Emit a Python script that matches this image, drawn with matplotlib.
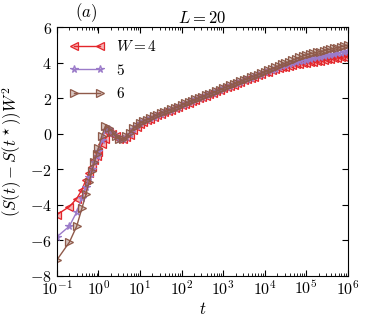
import math
import matplotlib
matplotlib.use("Agg")
import matplotlib.pyplot as plt
from matplotlib.ticker import FuncFormatter, LogLocator, FixedLocator

plt.rcParams['mathtext.fontset'] = 'cm'
plt.rcParams['font.family'] = 'serif'

# time points: linear start, then 12 points per decade
t_early = [0.1, 0.2, 0.3, 0.4, 0.5, 0.6, 0.7, 0.8, 0.9]
t_mant = [1.0, 1.21, 1.47, 1.78, 2.15, 2.61, 3.16, 3.83, 4.64, 5.62, 6.81, 8.25]
t = t_early + [m * 10 ** d for d in range(6) for m in t_mant] + [1e6]

# W = 4
y_w4 = [-4.55, -4.1, -3.65, -3.15, -2.6, -2.2, -1.85, -1.5, -1.25,
        -1.0, -0.6, -0.3, 0.05, 0.0, -0.15, -0.28, -0.3, -0.2, -0.05, 0.2, 0.4,
        0.55, 0.68, 0.76, 0.86, 0.95, 1.04, 1.12, 1.2, 1.27, 1.35, 1.43, 1.51,
        1.6, 1.68, 1.75, 1.83, 1.92, 1.99, 2.06, 2.15, 2.22, 2.3, 2.38, 2.46,
        2.55, 2.62, 2.7, 2.77, 2.85, 2.92, 3.0, 3.07, 3.15, 3.22, 3.3, 3.38,
        3.45, 3.5, 3.57, 3.62, 3.7, 3.74, 3.78, 3.83, 3.87, 3.9, 3.93, 3.96,
        3.98, 4.02, 4.05, 4.08, 4.11, 4.15, 4.18, 4.2, 4.24, 4.27, 4.3, 4.33,
        4.35]
# W = 5
y_w5 = [-5.8, -5.2, -4.4, -3.6, -3.0, -2.45, -2.0, -1.6, -1.25,
        -0.95, -0.35, 0.2, 0.25, 0.05, -0.15, -0.28, -0.3, -0.18, 0.0, 0.25, 0.42,
        0.58, 0.7, 0.79, 0.87, 0.97, 1.06, 1.14, 1.22, 1.29, 1.36, 1.45, 1.53,
        1.62, 1.7, 1.77, 1.85, 1.93, 2.0, 2.08, 2.16, 2.24, 2.31, 2.39, 2.47,
        2.55, 2.63, 2.71, 2.78, 2.86, 2.93, 3.0, 3.08, 3.16, 3.23, 3.31, 3.38,
        3.46, 3.53, 3.6, 3.66, 3.74, 3.8, 3.86, 3.91, 3.97, 4.02, 4.07, 4.12,
        4.17, 4.22, 4.26, 4.3, 4.34, 4.38, 4.42, 4.46, 4.5, 4.53, 4.56, 4.6,
        4.63]
# W = 6
y_w6 = [-7.1, -6.1, -5.2, -4.2, -3.4, -2.7, -2.1, -1.6, -1.15,
        -0.8, -0.1, 0.42, 0.35, 0.1, -0.15, -0.3, -0.3, -0.15, 0.05, 0.3, 0.45,
        0.6, 0.72, 0.8, 0.88, 0.98, 1.07, 1.15, 1.22, 1.3, 1.37, 1.45, 1.53,
        1.63, 1.71, 1.78, 1.86, 1.94, 2.01, 2.09, 2.17, 2.25, 2.32, 2.4, 2.48,
        2.56, 2.64, 2.72, 2.79, 2.87, 2.95, 3.02, 3.1, 3.18, 3.25, 3.33, 3.41,
        3.5, 3.58, 3.66, 3.74, 3.82, 3.9, 3.98, 4.06, 4.14, 4.22, 4.3, 4.37,
        4.45, 4.5, 4.54, 4.58, 4.62, 4.67, 4.72, 4.76, 4.8, 4.85, 4.9, 4.95,
        5.0]

series = [
    (y_w4, '$W=4$', '#e3262b', '<'),
    (y_w5, '$5$', '#9b7bc9', '*'),
    (y_w6, '$6$', '#8f5a4a', '>'),
]

fig = plt.figure(figsize=(3.74, 3.27), dpi=100)
ax = fig.add_axes([0.152, 0.156, 0.778, 0.761])

for y, lab, col, mk in series:
    ax.plot(t, y, color=col, marker=mk, markersize=5.5, linewidth=1.0,
            markeredgecolor=col, markeredgewidth=0.9,
            markerfacecolor=matplotlib.colors.to_rgba(col, 0.35), label=lab)

ax.set_xscale('log')
ax.set_xlim(0.1, 1e6)
ax.set_ylim(-8, 6)
ax.yaxis.set_major_locator(FixedLocator([-8, -6, -4, -2, 0, 2, 4, 6]))
ax.xaxis.set_major_locator(LogLocator(base=10, numticks=10))
ax.xaxis.set_minor_locator(LogLocator(base=10, subs=range(2, 10), numticks=20))
ax.xaxis.set_major_formatter(FuncFormatter(lambda v, p: r'$10^{%d}$' % round(math.log10(v))))
ax.yaxis.set_major_formatter(FuncFormatter(lambda v, p: r'$%d$' % v))
ax.tick_params(which='both', direction='in', top=True, right=True, labelsize=11.5)
ax.tick_params(which='major', length=4)
ax.tick_params(which='minor', length=2)
ax.tick_params(axis='x', pad=3)

ax.set_xlabel('$t$', fontsize=12, labelpad=2)
ax.set_ylabel(r'$(S(t)-S(t^\star))W^2$', fontsize=12, labelpad=4)
ax.set_title('$L=20$', fontsize=12, pad=3)
ax.text(0.1, 1.012, '$(a)$', transform=ax.transAxes, fontsize=12, ha='center', va='bottom')

ax.legend(loc='upper left', frameon=False, numpoints=2, fontsize=11,
          handlelength=2.3, labelspacing=0.55, borderaxespad=0.4)

fig.savefig('out.png', dpi=100)
